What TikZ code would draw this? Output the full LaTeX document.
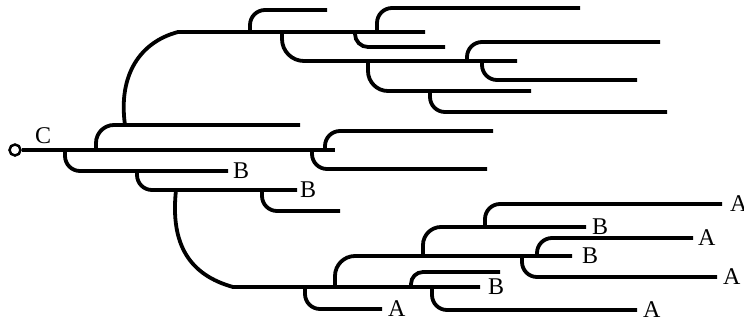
\documentclass[tikz,border=0pt]{standalone}
\usepackage{fontspec}
\setmainfont{Liberation Serif}
\begin{document}
\begin{tikzpicture}[x=1pt,y=-1pt,
  edge/.style={line width=3.8pt},
  br/.style={line width=3.8pt, rounded corners=#1},
  br/.default=15,
  lab/.style={anchor=west, inner sep=0pt, font=\fontsize{24}{26}\selectfont}]
\useasboundingbox (0,0) rectangle (744,322);

% root
\node[circle, draw, line width=2.5pt, minimum size=11pt, inner sep=0pt] (root) at (15,150) {};
\node[lab] (c) at (35,136) {C};
\draw[edge] (root.east) -- (335,150);

% upper part
\draw[br=18] (96,150) |- (300,125);
\draw[edge] (125,125) .. controls (118,75) and (140,42) .. (178,32) -- (425,32);
\draw[br] (250,32) |- (327,10);
\draw[br=22] (282,32) |- (517,61);
\draw[br=13] (355,32) |- (445,47);
\draw[br] (377,32) |- (580,8);
\draw[br] (467,61) |- (660,42);
\draw[br] (482,61) |- (637,80);
\draw[br=20] (368,61) |- (531,91);
\draw[br] (430,91) |- (667,112);

% middle right
\draw[br] (325,150) |- (493,131);
\draw[br] (312,150) |- (487,169);

% lower part
\node[lab] (b1) at (233,171) {B};
\draw[br] (65,150) |- ([xshift=-5pt]b1.west);
\node[lab] (b2) at (300,190) {B};
\draw[br] (137,171) |- ([xshift=-3pt]b2.west);
\draw[br] (262,190) |- (340,211);
\node[lab] (b3) at (488,287) {B};
\draw[edge] (176,190) .. controls (170,245) and (190,275) .. (233,287) -- ([xshift=-8pt]b3.west);
\node[lab] (a1) at (388,309) {A};
\draw[br] (305,287) |- ([xshift=-6pt]a1.west);
\node[lab] (b4) at (582,256) {B};
\draw[br=20] (335,287) |- ([xshift=-10pt]b4.west);
\node[lab] (b5) at (592,227) {B};
\draw[br=18] (423,256) |- ([xshift=-6pt]b5.west);
\node[lab] (a2) at (730,204) {A};
\draw[br] (485,227) |- ([xshift=-8pt]a2.west);
\node[lab] (a3) at (698,238) {A};
\draw[br] (537,256) |- ([xshift=-5pt]a3.west);
\node[lab] (a4) at (723,277) {A};
\draw[br] (522,256) |- ([xshift=-6pt]a4.west);
\draw[br=12] (411,287) |- (500,272);
\node[lab] (a5) at (643,310) {A};
\draw[br] (432,287) |- ([xshift=-6pt]a5.west);
\end{tikzpicture}
\end{document}
